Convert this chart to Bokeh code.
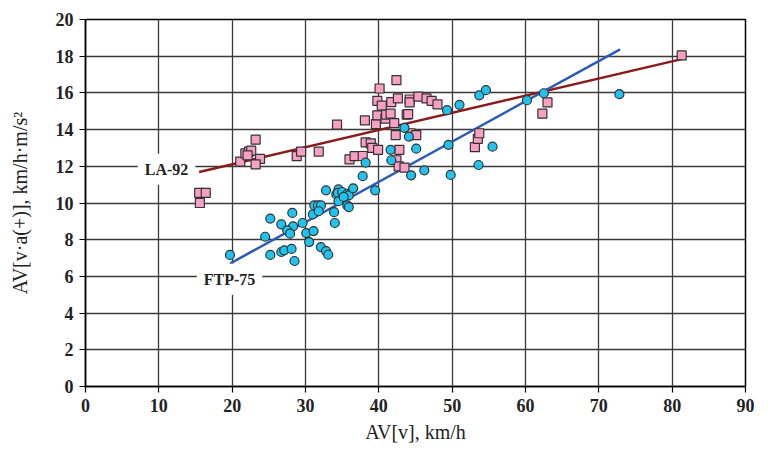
from bokeh.plotting import figure
from bokeh.models import Range1d, Label, FixedTicker
from bokeh.embed import file_html
from bokeh.resources import INLINE

# LA-92 data (squares)
la_x = [15.5, 16.4, 15.6, 21.1, 21.8, 22.3, 22.6, 22.1, 23.2, 23.8, 23.2, 28.8, 29.4,
        31.8, 34.3, 36.0, 36.7, 37.8, 38.1, 38.2, 38.9, 39.1, 39.9, 39.6, 39.8, 39.8,
        40.1, 40.4, 40.9, 41.0, 41.6, 41.7, 42.1, 42.3, 42.4, 42.6, 42.8, 42.4, 42.7,
        43.5, 43.8, 44.0, 44.2, 44.2, 44.3, 45.1, 45.4, 46.5, 47.2, 48.0, 53.1, 53.5,
        53.7, 62.3, 63.0, 81.3]
la_y = [10.55, 10.55, 10.0, 12.25, 12.7, 12.8, 12.85, 12.6, 13.45, 12.4, 12.1, 12.55, 12.8,
        12.8, 14.27, 12.38, 12.55, 12.56, 14.5, 13.3, 13.25, 13.0, 12.9, 14.3, 14.78, 15.56,
        16.24, 15.31, 14.6, 14.82, 14.87, 15.5, 14.35, 13.7, 16.7, 15.7, 12.9, 12.33, 12.0,
        11.93, 14.82, 14.84, 15.64, 15.48, 13.8, 13.7, 15.8, 15.7, 15.56, 15.38, 13.04, 13.5,
        13.8, 14.87, 15.48, 18.04]

# FTP-75 data (circles)
ftp_x = [19.7, 25.2, 26.7, 27.1, 28.1, 28.5, 24.5, 25.2, 26.7, 28.2, 28.3, 27.5, 27.9,
         29.6, 30.1, 30.5, 31.1, 32.1, 32.8, 33.1, 31.0, 31.2, 31.7, 32.1, 31.8, 33.9,
         34.0, 32.8, 34.2, 34.5, 34.4, 35.0, 35.7, 35.9, 36.5, 34.5, 35.2, 35.7, 35.9,
         37.8, 38.2, 39.5, 41.6, 41.7, 43.5, 44.1, 45.1, 44.4, 46.2, 49.8, 53.6, 49.3,
         51.0, 53.7, 54.6, 49.5, 55.5, 60.2, 62.5, 72.8]
ftp_y = [7.17, 7.17, 7.33, 7.42, 7.5, 6.84, 8.16, 9.15, 8.84, 9.46, 8.73, 8.51, 8.33,
         8.91, 8.36, 7.87, 8.47, 7.6, 7.38, 7.18, 9.38, 9.87, 9.87, 9.87, 9.55, 9.5,
         8.91, 10.69, 10.47, 10.74, 10.55, 10.6, 10.5, 10.42, 10.8, 10.1, 10.33, 9.87, 9.78,
         11.46, 12.2, 10.69, 12.9, 12.33, 14.09, 13.62, 12.96, 11.51, 11.78, 11.53, 12.07, 15.06,
         15.35, 15.87, 16.15, 13.17, 13.07, 15.6, 15.98, 15.93]

# Trend lines (endpoints)
la_fit_x = [15.5, 81.3]
la_fit_y = [11.69, 17.84]
ftp_fit_x = [19.7, 72.9]
ftp_fit_y = [6.7, 18.37]

x_ticks = [0, 10, 20, 30, 40, 50, 60, 70, 80, 90]
y_ticks = [0, 2, 4, 6, 8, 10, 12, 14, 16, 18, 20]

SERIF = "Liberation Serif"

p = figure(width=763, height=449, output_backend="svg", toolbar_location=None,
           x_range=Range1d(0, 90), y_range=Range1d(0, 20),
           min_border_left=85, min_border_right=18, min_border_top=19,
           min_border_bottom=63)

p.background_fill_color = "white"
p.border_fill_color = "white"
p.outline_line_color = "black"
p.outline_line_width = 1.5

p.xaxis.ticker = FixedTicker(ticks=x_ticks)
p.yaxis.ticker = FixedTicker(ticks=y_ticks)
for ax in (p.xaxis, p.yaxis):
    ax.minor_tick_line_color = None
    ax.major_tick_in = 0
    ax.major_tick_out = 6
    ax.major_tick_line_color = "black"
    ax.major_tick_line_width = 1.2
    ax.axis_line_color = "black"
    ax.axis_line_width = 1.5
    ax.major_label_text_font = SERIF
    ax.major_label_text_font_style = "bold"
    ax.major_label_text_font_size = "18px"
    ax.major_label_text_color = "#222222"
    ax.axis_label_text_font = SERIF
    ax.axis_label_text_font_style = "normal"
    ax.axis_label_text_font_size = "20px"
    ax.axis_label_text_color = "#222222"

p.xaxis.axis_label = "AV[v], km/h"
p.yaxis.axis_label = "AV[v·a(+)], km/h·m/s²"
p.xaxis.major_label_standoff = 6
p.xaxis.axis_label_standoff = 6
p.yaxis.major_label_standoff = 6
p.yaxis.axis_label_standoff = 22

p.xgrid.ticker = FixedTicker(ticks=x_ticks)
p.ygrid.ticker = FixedTicker(ticks=y_ticks)
for g in (p.xgrid, p.ygrid):
    g.grid_line_color = "#3a3a3a"
    g.grid_line_width = 1.3

p.line(la_fit_x, la_fit_y, line_color="#8b1a1a", line_width=2.5)
p.line(ftp_fit_x, ftp_fit_y, line_color="#2a5cb8", line_width=2.5)

p.scatter(la_x, la_y, marker="square", size=9, fill_color="#f7a0c4",
          line_color="#333333", line_width=1.2)
p.scatter(ftp_x, ftp_y, marker="circle", size=9, fill_color="#1fc3ee",
          line_color="#333333", line_width=1.2)

lab1 = Label(x=11.05, y=11.84, text="LA-92", text_align="center", text_baseline="middle",
             text_font=SERIF, text_font_style="bold", text_font_size="16px",
             text_color="#222222", background_fill_color="white", padding=7)
lab2 = Label(x=19.64, y=5.84, text="FTP-75", text_align="center", text_baseline="middle",
             text_font=SERIF, text_font_style="bold", text_font_size="16px",
             text_color="#222222", background_fill_color="white", padding=7)
p.add_layout(lab1)
p.add_layout(lab2)

open("out.html", "w").write(file_html(p, INLINE))
